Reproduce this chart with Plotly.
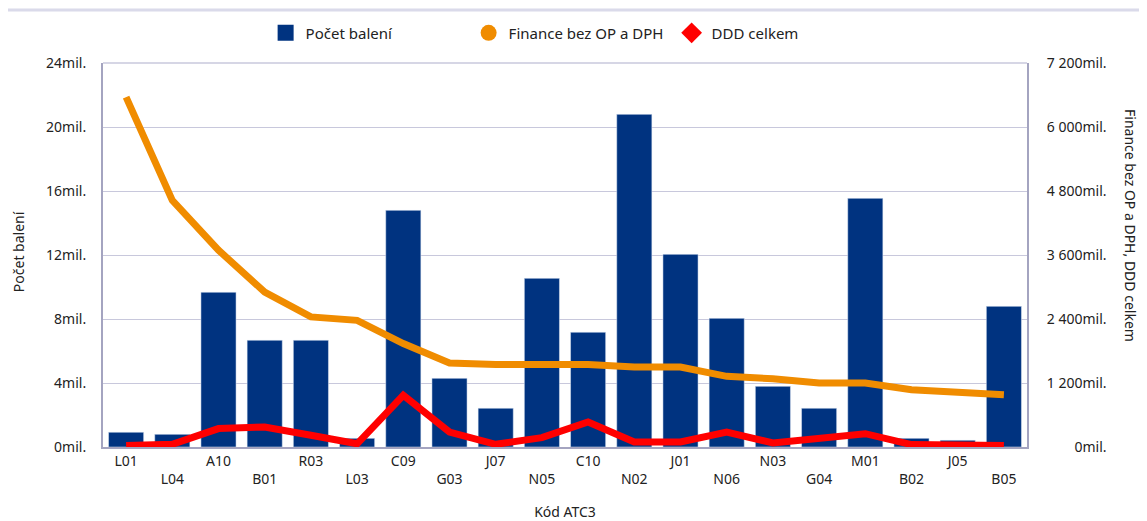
import plotly.graph_objects as go

# ATC3 codes and values (millions)
kody = ["L01", "L04", "A10", "B01", "R03", "L03", "C09", "G03", "J07", "N05",
        "C10", "N02", "J01", "N06", "N03", "G04", "M01", "B02", "J05", "B05"]
pocet_baleni = [0.92, 0.79, 9.67, 6.67, 6.67, 0.54, 14.79, 4.29, 2.42, 10.54,
                7.17, 20.79, 12.04, 8.04, 3.79, 2.42, 15.54, 0.54, 0.42, 8.79]
finance = [6560, 4625, 3690, 2905, 2440, 2375, 1940, 1575, 1545, 1545,
           1545, 1500, 1500, 1325, 1280, 1200, 1200, 1075, 1015, 980]
ddd = [30, 50, 345, 375, 220, 60, 970, 280, 50, 175,
       470, 95, 95, 280, 75, 175, 250, 45, 30, 30]

left_ticks = [0, 4, 8, 12, 16, 20, 24]
left_text = ["0mil.", "4mil.", "8mil.", "12mil.", "16mil.", "20mil.", "24mil."]
right_ticks = [0, 1200, 2400, 3600, 4800, 6000, 7200]
right_text = ["\u2007\u2007\u2007 0mil.", "1 200mil.", "2 400mil.", "3 600mil.",
              "4 800mil.", "6 000mil.", "7 200mil."]

BLUE = "#003380"
ORANGE = "#F08C00"
RED = "#FF0000"
GRID = "#C8C8DC"
AXIS = "#A4A4C0"
FONT = "Noto Sans"

# alternate tick labels on two rows
x_text = [k if i % 2 == 0 else "<br>" + k for i, k in enumerate(kody)]

fig = go.Figure()

fig.add_trace(go.Bar(x=kody, y=pocet_baleni, marker_color=BLUE, showlegend=False,
                     name="Počet balení"))
fig.add_trace(go.Scatter(x=kody, y=finance, yaxis="y2", mode="lines",
                         line=dict(color=ORANGE, width=7), showlegend=False,
                         name="Finance bez OP a DPH"))
fig.add_trace(go.Scatter(x=kody, y=ddd, yaxis="y2", mode="lines",
                         line=dict(color=RED, width=7), showlegend=False,
                         name="DDD celkem"))

# legend entries
fig.add_trace(go.Scatter(x=[None], y=[None], mode="markers", name="Počet balení",
                         marker=dict(symbol="square", size=16, color=BLUE)))
fig.add_trace(go.Scatter(x=[None], y=[None], mode="markers", name="Finance bez OP a DPH",
                         marker=dict(symbol="circle", size=16, color=ORANGE)))
fig.add_trace(go.Scatter(x=[None], y=[None], mode="markers", name="DDD celkem",
                         marker=dict(symbol="diamond", size=16, color=RED)))

fig.update_layout(
    width=1147, height=521,
    margin=dict(l=95, r=128, t=55, b=82, autoexpand=False),
    paper_bgcolor="white", plot_bgcolor="white",
    font=dict(family=FONT, size=14, color="#222222"),
    bargap=0.24,
    legend=dict(orientation="h", x=0.176, xanchor="left", y=1.078, yanchor="middle",
                entrywidth=158, font=dict(size=15), bgcolor="rgba(0,0,0,0)"),
    xaxis=dict(tickvals=kody, ticktext=x_text, showline=True, linecolor=AXIS,
               linewidth=2, ticks="", showgrid=False, tickangle=0,
               ticklabelstandoff=0, automargin=False,
               title=dict(text="Kód ATC3", standoff=20, font=dict(size=14))),
    yaxis=dict(range=[0, 24], tickvals=left_ticks, ticktext=left_text,
               showgrid=True, gridcolor=GRID, gridwidth=1, showline=True,
               linecolor=AXIS, linewidth=2, ticks="", zeroline=False,
               ticklabelstandoff=12, automargin=False),
    yaxis2=dict(range=[0, 7200], tickvals=right_ticks, ticktext=right_text,
                overlaying="y", side="right", showgrid=False, showline=True,
                linecolor=AXIS, linewidth=2, ticks="", zeroline=False,
                ticklabelstandoff=15, automargin=False),
)

fig.add_annotation(text="Počet balení", xref="paper", yref="paper",
                   x=-0.092, y=0.51, xanchor="center", yanchor="middle",
                   textangle=-90, showarrow=False, font=dict(size=14))
fig.add_annotation(text="Finance bez OP a DPH, DDD celkem", xref="paper", yref="paper",
                   x=1.1126, y=0.578, xanchor="center", yanchor="middle",
                   textangle=90, showarrow=False, font=dict(size=14))

# thin header separator at the top, and light top border of the plot
fig.add_shape(type="line", xref="paper", yref="paper", x0=-95 / 924, x1=1.2,
              y0=1.138, y1=1.138, line=dict(color="#DADAEA", width=3))
fig.add_shape(type="line", xref="paper", yref="paper", x0=0, x1=1,
              y0=1, y1=1, line=dict(color=GRID, width=1.5), layer="below")

fig.write_html("out.html")
